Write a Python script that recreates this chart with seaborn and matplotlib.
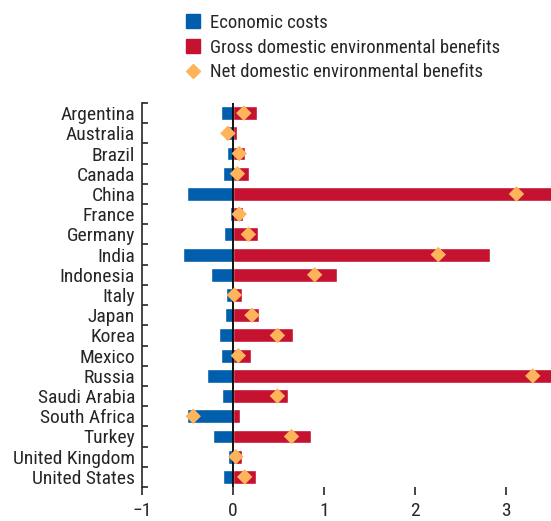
import numpy as np
import pandas as pd
import matplotlib.pyplot as plt
from matplotlib.lines import Line2D
import seaborn as sns

sns.set_style("ticks")
plt.rcParams["font.family"] = ["Roboto Condensed", "DejaVu Sans"]

countries = ["Argentina", "Australia", "Brazil", "Canada", "China", "France",
             "Germany", "India", "Indonesia", "Italy", "Japan", "Korea", "Mexico",
             "Russia", "Saudi Arabia", "South Africa", "Turkey", "United Kingdom",
             "United States"]
economic_costs = [-0.135, -0.088, -0.06, -0.114, -0.51, -0.037, -0.10, -0.55,
                  -0.245, -0.08, -0.09, -0.157, -0.135, -0.28, -0.125, -0.51,
                  -0.223, -0.059, -0.114]
gross_benefits = [0.26, 0.04, 0.128, 0.172, 3.63, 0.106, 0.28, 2.83, 1.15, 0.095,
                  0.29, 0.656, 0.194, 3.58, 0.61, 0.073, 0.864, 0.095, 0.25]
net_benefits = [0.12, -0.055, 0.07, 0.05, 3.12, 0.07, 0.17, 2.26, 0.90, 0.015,
                0.21, 0.49, 0.06, 3.30, 0.49, -0.436, 0.645, 0.033, 0.13]

blue = "#005EAC"
red = "#C41230"
orange = "#FDB45A"

df = pd.DataFrame({"country": countries, "cost": economic_costs,
                   "gross": gross_benefits, "net": net_benefits})

fig = plt.figure(figsize=(5.51, 5.21), dpi=100)
ax = fig.add_axes([142 / 551, 34 / 521, 409 / 551, 384 / 521])

sns.barplot(data=df, x="cost", y="country", orient="y", color=blue,
            saturation=1, width=0.69, ax=ax, zorder=2)
sns.barplot(data=df, x="gross", y="country", orient="y", color=red,
            saturation=1, width=0.69, ax=ax, zorder=2)
ax.axvline(0, color="black", lw=1.3, zorder=3)
sns.scatterplot(data=df, x="net", y="country", marker="D", s=62, color=orange,
                edgecolor="none", ax=ax, zorder=4, legend=False)

ax.set_xlim(-1, 3.5)
ax.set_ylim(18.5, -0.5)
ax.set_xlabel("")
ax.set_ylabel("")
ax.set_xticks([-1, 0, 1, 2, 3])

for side in ["top", "right", "bottom"]:
    ax.spines[side].set_visible(False)
ax.spines["left"].set_linewidth(1.2)

ax.set_yticks(np.arange(len(countries)))
ax.set_yticklabels(countries)
ax.set_yticks(np.arange(-0.5, len(countries), 1), minor=True)
ax.tick_params(axis="y", which="major", length=0, pad=5, labelsize=14)
ax.tick_params(axis="y", which="minor", direction="in", length=4.5, width=1.2)
ax.tick_params(axis="x", direction="out", length=6, width=1.2, pad=5, labelsize=14)

handles = [
    Line2D([], [], ls="none", marker="s", ms=9.5, color=blue),
    Line2D([], [], ls="none", marker="s", ms=9.5, color=red),
    Line2D([], [], ls="none", marker="D", ms=7.5, color=orange),
]
labels = ["Economic costs", "Gross domestic environmental benefits",
          "Net domestic environmental benefits"]
fig.legend(handles, labels, loc="upper left", bbox_to_anchor=(184 / 551, 1 - 14 / 521),
           frameon=False, fontsize=13.5, handlelength=1.0, handletextpad=0.4,
           labelspacing=0.35, borderpad=0, borderaxespad=0)

fig.savefig("out.png", dpi=100)
